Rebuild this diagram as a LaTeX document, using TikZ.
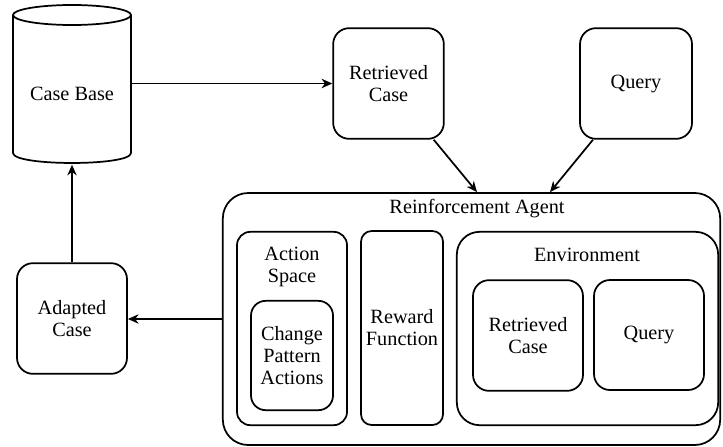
\documentclass[tikz,border=0pt]{standalone}
\usepackage{fontspec}
\setmainfont{LiberationSerif}[Extension=.ttf, UprightFont=*-Regular]
\usetikzlibrary{arrows.meta}

\begin{document}
\begin{tikzpicture}[x=0.75pt,y=-0.75pt,
    line width=1.3pt,
    font=\fontsize{15.2}{16.5}\selectfont,
    box/.style={draw, rounded corners=#1, align=center, inner sep=0pt},
    box/.default=12pt,
    txt/.style={align=center, inner sep=0pt},
    arr/.style={-{Stealth[length=8pt,width=7pt,inset=2.5pt]}}]
  \useasboundingbox (0,0) rectangle (723,446);

  % case base (cylinder)
  \node[txt, minimum width=88.5pt, minimum height=103.5pt] (casebase) at (72,94) {Case Base};
  \draw (72,15) ellipse [x radius=59, y radius=10];
  \draw (13,15) -- (13,153) .. controls (13,166.3) and (131,166.3) .. (131,153) -- (131,15);

  % inputs
  \node[box, minimum width=83pt, minimum height=83pt] (retr) at (388.5,83.5) {Retrieved\\Case};
  \node[box, minimum width=84pt, minimum height=83pt] (query) at (636,83.5) {Query};
  \node[box, minimum width=82.5pt, minimum height=83pt] (adapted) at (72,318.5) {Adapted\\Case};

  % agent
  \node[box=19pt, minimum width=373pt, minimum height=189pt] (agent) at (471.5,319) {};
  \node[txt] (agenttxt) at (477,209) {Reinforcement Agent};

  \node[box=10pt, minimum width=82.5pt, minimum height=145pt] (action) at (292,328.5) {};
  \node[txt] (actiontxt) at (292,267) {Action\\Space};
  \node[box=11pt, minimum width=61.5pt, minimum height=82pt] (change) at (292,355.5) {Change\\Pattern\\Actions};

  \node[box=8pt, minimum width=61.5pt, minimum height=145.5pt] (reward) at (402,328) {Reward\\Function};

  \node[box=17pt, minimum width=196pt, minimum height=145pt] (env) at (587.5,328.5) {};
  \node[txt] (envtxt) at (587,255) {Environment};
  \node[box, minimum width=82.5pt, minimum height=83pt] (envretr) at (528,335.5) {Retrieved\\Case};
  \node[box, minimum width=82.5pt, minimum height=82.5pt] (envquery) at (649,335) {Query};

  % connectors
  \draw[arr] (casebase.east |- retr.west) -- (retr.west);
  \draw[arr] ([shift={(-11,0)}]retr.south east) -- ([shift={(5.5,0)}]agent.north);
  \draw[arr] ([shift={(-43,0)}]query.south) -- ([shift={(78.5,0)}]agent.north);
  \draw[arr] (agent.west) -- (agent.west -| adapted.east);
  \draw[arr] (adapted.north) -- ([yshift=-0.6pt]casebase.south);
\end{tikzpicture}
\end{document}
